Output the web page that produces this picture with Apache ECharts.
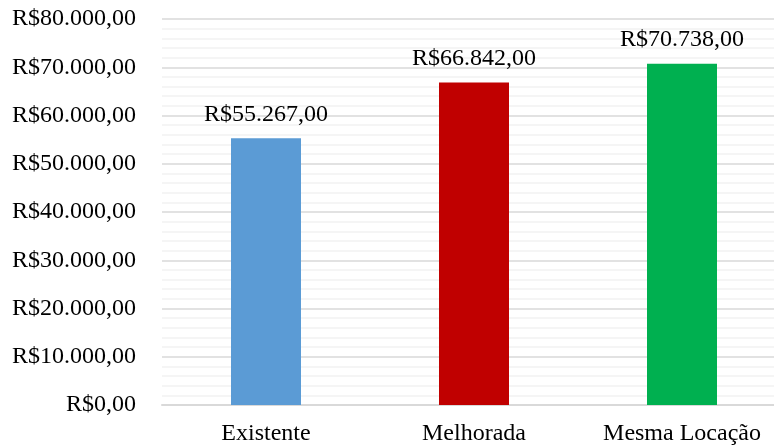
<!DOCTYPE html>
<html>
<head>
<meta charset="utf-8">
<script src="https://cdn.jsdelivr.net/npm/echarts@6/dist/echarts.min.js"></script>
<style>
  html, body { margin: 0; padding: 0; background: #ffffff; }
  #chart { width: 774px; height: 446px; }
</style>
</head>
<body>
<div id="chart"></div>
<script>
// Categories and values of the cost comparison
const categories = ['Existente', 'Melhorada', 'Mesma Locação'];
const values = [55267, 66842, 70738];
const barColors = ['#5B9BD5', '#C00000', '#00B050'];

// Axis range
const yMin = 0;
const yMax = 80000;
const yInterval = 10000;

// Brazilian currency format: R$70.738,00
function brl(v) {
  const s = Math.round(v).toString().replace(/\B(?=(\d{3})+(?!\d))/g, '.');
  return 'R$' + s + ',00';
}

const font = '"Liberation Serif", "Times New Roman", serif';

const chart = echarts.init(document.getElementById('chart'));
chart.setOption({
  animation: false,
  backgroundColor: '#ffffff',
  // plot area runs slightly past the right edge of the canvas
  grid: {
    left: 162, width: 624, top: 19, bottom: 41,
    containLabel: false, outerBoundsMode: 'none'
  },
  xAxis: {
    type: 'category',
    data: categories,
    axisLine: { show: true, lineStyle: { color: '#D9D9D9', width: 2 } },
    axisTick: { show: false },
    axisLabel: {
      color: '#000000', fontFamily: font, fontSize: 24, margin: 17,
      interval: 0, hideOverlap: false
    }
  },
  yAxis: {
    type: 'value',
    min: yMin,
    max: yMax,
    interval: yInterval,
    axisLine: { show: false },
    axisTick: { show: false },
    axisLabel: {
      color: '#000000', fontFamily: font, fontSize: 24, margin: 26,
      formatter: brl
    },
    splitLine: { show: true, lineStyle: { color: '#D9D9D9', width: 1.5 } },
    minorTick: { show: false, splitNumber: 5 },
    minorSplitLine: { show: true, lineStyle: { color: '#F2F2F2', width: 1.5 } }
  },
  series: [{
    type: 'bar',
    barWidth: 70,
    data: values.map((v, i) => ({ value: v, itemStyle: { color: barColors[i] } })),
    label: {
      show: true,
      position: 'top',
      distance: 12,
      color: '#000000',
      fontFamily: font,
      fontSize: 24,
      formatter: p => brl(p.value)
    }
  }]
});
</script>
</body>
</html>
